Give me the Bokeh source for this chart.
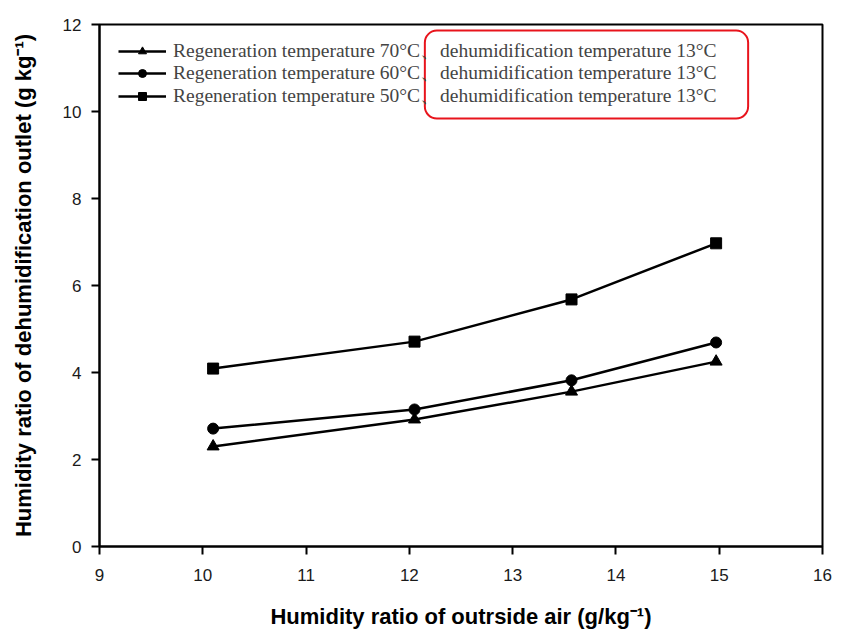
from bokeh.plotting import figure
from bokeh.models import Range1d, BoxAnnotation, Legend, LegendItem, FixedTicker
from bokeh.embed import file_html
from bokeh.resources import INLINE

# Data
outside_air = [10.1, 12.05, 13.57, 14.97]
regen70 = [2.30, 2.92, 3.56, 4.25]
regen60 = [2.71, 3.15, 3.82, 4.69]
regen50 = [4.09, 4.71, 5.68, 6.97]

labels = [
    "Regeneration temperature 70\u00b0C\u3001dehumidification temperature 13\u00b0C",
    "Regeneration temperature 60\u00b0C\u3001dehumidification temperature 13\u00b0C",
    "Regeneration temperature 50\u00b0C\u3001dehumidification temperature 13\u00b0C",
]
x_ticks = [9, 10, 11, 12, 13, 14, 15, 16]
y_ticks = [0, 2, 4, 6, 8, 10, 12]

p = figure(frame_width=723, frame_height=522, output_backend="svg", toolbar_location=None,
           x_range=Range1d(9, 16), y_range=Range1d(0, 12),
           min_border_left=99, min_border_top=24, min_border_right=10, min_border_bottom=80)

p.xgrid.visible = False
p.ygrid.visible = False
p.outline_line_color = "black"
p.outline_line_width = 2
p.background_fill_color = "white"

for ax in (p.xaxis[0], p.yaxis[0]):
    ax.axis_line_width = 2
    ax.major_tick_line_width = 2
    ax.major_tick_out = 8
    ax.major_tick_in = 0
    ax.minor_tick_out = 0
    ax.minor_tick_in = 0
    ax.major_label_text_font = "Liberation Sans"
    ax.major_label_text_font_size = "17px"
    ax.major_label_text_color = "#1a1a1a"
    ax.axis_label_text_font = "Liberation Sans"
    ax.axis_label_text_font_style = "bold"
    ax.axis_label_text_font_size = "22px"
    ax.axis_label_text_color = "black"

p.xaxis.ticker = FixedTicker(ticks=x_ticks)
p.yaxis.ticker = FixedTicker(ticks=y_ticks)
p.xaxis.axis_label = "Humidity ratio of outrside air (g/kg\u207b\u00b9)"
p.yaxis.axis_label = "Humidity ratio of dehumidification outlet (g kg\u207b\u00b9)"
p.xaxis.major_label_standoff = 14
p.xaxis.axis_label_standoff = 20
p.yaxis.major_label_standoff = 10
p.yaxis.axis_label_standoff = 24

l1 = p.line(outside_air, regen70, line_color="black", line_width=2.5)
m1 = p.scatter(outside_air, regen70, marker="triangle", size=12, color="black")
l2 = p.line(outside_air, regen60, line_color="black", line_width=2.5)
m2 = p.scatter(outside_air, regen60, marker="circle", size=11, color="black")
l3 = p.line(outside_air, regen50, line_color="black", line_width=2.5)
m3 = p.scatter(outside_air, regen50, marker="square", size=11, color="black")

rows = [(labels[0], [l1, m1], 480), (labels[1], [l2, m2], 458), (labels[2], [l3, m3], 435)]
for lab, rends, ypos in rows:
    lg = Legend(items=[LegendItem(label=lab, renderers=rends)], location=(17, ypos))
    lg.label_text_font = "Liberation Serif"
    lg.label_text_font_size = "19.5px"
    lg.label_standoff = 7
    lg.glyph_width = 48
    lg.glyph_height = 20
    lg.label_height = 20
    lg.padding = 2
    lg.margin = 0
    lg.border_line_alpha = 0
    lg.background_fill_alpha = 0
    p.add_layout(lg)

box = BoxAnnotation(left=12.15, right=15.28, top=11.86, bottom=9.84,
                    fill_alpha=0, line_color="#e8141c", line_alpha=1.0,
                    line_width=2, border_radius=12)
p.add_layout(box)

open("out.html", "w").write(file_html(p, INLINE))
